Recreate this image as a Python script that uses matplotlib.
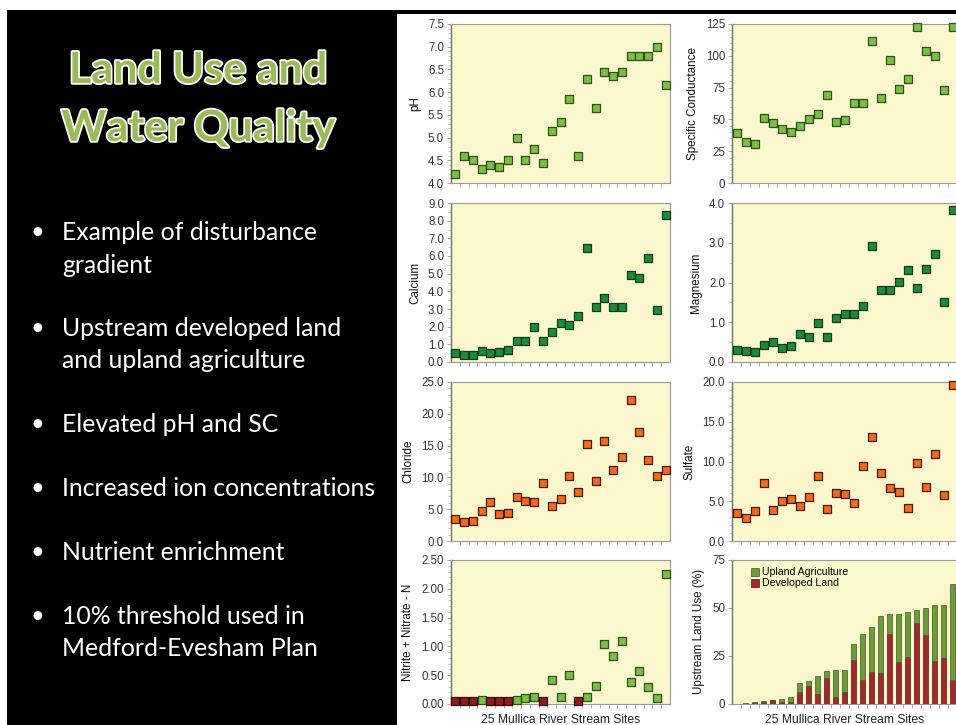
import matplotlib
matplotlib.use("Agg")
import matplotlib.pyplot as plt
import matplotlib.patheffects as pe
from matplotlib.patches import Rectangle
from matplotlib.ticker import MultipleLocator, FixedLocator, NullFormatter
import numpy as np

# ---------------- data ----------------
sites = np.arange(1, 26)
ph = [4.2, 4.6, 4.5, 4.3, 4.4, 4.35, 4.5, 5.0, 4.5, 4.75, 4.45, 5.15, 5.35,
      5.85, 4.6, 6.3, 5.65, 6.45, 6.35, 6.45, 6.8, 6.8, 6.8, 7.0, 6.15]
sc = [39, 32, 31, 51, 47.5, 42.5, 40, 44.5, 50.5, 54, 69.5, 48, 49.5, 63,
      63, 111.5, 67, 97, 74, 82, 122.5, 104, 99.5, 73, 122.5]
calcium = [0.51, 0.42, 0.38, 0.62, 0.49, 0.57, 0.66, 1.21, 1.17, 1.98, 1.21,
           1.72, 2.19, 2.12, 2.61, 6.43, 3.12, 3.63, 3.12, 3.12, 4.9, 4.76,
           5.88, 2.93, 8.34]
magnesium = [0.30, 0.28, 0.26, 0.43, 0.50, 0.36, 0.39, 0.70, 0.63, 0.99, 0.63,
             1.10, 1.21, 1.21, 1.41, 2.92, 1.82, 1.82, 2.01, 2.31, 1.87, 2.35,
             2.71, 1.50, 3.82]
chloride = [3.47, 3.0, 3.15, 4.78, 6.2, 4.2, 4.41, 6.93, 6.36, 6.15, 9.19,
            5.46, 6.62, 10.24, 7.77, 15.23, 9.45, 15.7, 11.19, 13.18, 22.2,
            17.2, 12.76, 10.24, 11.19]
sulfate = [3.47, 2.85, 3.77, 7.28, 3.93, 4.98, 5.31, 4.44, 5.48, 8.16, 4.02,
           6.1, 5.94, 4.81, 9.41, 13.14, 8.54, 6.61, 6.19, 4.18, 9.75, 6.78,
           10.96, 5.82, 19.6]
nitrate = [0.05, 0.05, 0.05, 0.064, 0.05, 0.05, 0.05, 0.064, 0.10, 0.13, 0.05,
           0.42, 0.13, 0.50, 0.05, 0.13, 0.32, 1.04, 0.84, 1.10, 0.39, 0.58,
           0.30, 0.11, 2.25]
nitrate_below_dl = [True, True, True, False, True, True, True, False, False,
                    False, True, False, False, False, True, False, False, False,
                    False, False, False, False, False, False, False]
developed = [0.1, 0.2, 0.5, 0.8, 1.9, 0.8, 1.2, 6.2, 9.2, 5.2, 13.3, 3.6, 6.2,
             22.7, 12.3, 16.8, 16.3, 36.7, 22.0, 24.3, 42.0, 35.9, 22.4, 23.9,
             12.5]
upland_ag = [0.1, 0.2, 0.5, 0.6, 0.2, 1.6, 2.4, 4.9, 2.9, 9.2, 3.7, 14.3,
             11.7, 8.5, 24.3, 23.4, 29.3, 10.3, 25.0, 23.4, 7.2, 14.2, 29.2,
             27.7, 50.1]

title_lines = ["Land Use and", "Water Quality"]
bullets = [["Example of disturbance", "gradient"],
           ["Upstream developed land", "and upland agriculture"],
           ["Elevated pH and SC"],
           ["Increased ion concentrations"],
           ["Nutrient enrichment"],
           ["10% threshold used in", "Medford-Evesham Plan"]]
xlabel = "25 Mullica River Stream Sites"

# ---------------- styling ----------------
W, H = 956, 725
fig = plt.figure(figsize=(W / 100, H / 100), dpi=100)
fig.patch.set_facecolor("white")

def fx(px):
    return px / W

def fy(py):
    return 1 - py / H

fig.patches.append(Rectangle((fx(7), 0), 1 - fx(7), fy(10), transform=fig.transFigure,
                             facecolor="black", edgecolor="none", zorder=-10))
fig.patches.append(Rectangle((fx(397), 0), 1 - fx(397), fy(14), transform=fig.transFigure,
                             facecolor="white", edgecolor="none", zorder=-9))

slide_font = ["Lato", "DejaVu Sans"]
for i, (line, yc) in enumerate(zip(title_lines, [70, 128])):
    fig.text(fx(198), fy(yc), line, ha="center", va="center", fontsize=31,
             fontweight="bold", color="#9BBB59", family=slide_font,
             path_effects=[pe.withStroke(linewidth=2.5, foreground="white")])

bullet_y = [233, 329, 425, 489, 553, 617]
line_gap = 32
for lines, y0 in zip(bullets, bullet_y):
    fig.text(fx(37), fy(y0), "\u2022", ha="center", va="center", fontsize=17,
             color="white", family=slide_font)
    for k, ln in enumerate(lines):
        fig.text(fx(62), fy(y0 + k * line_gap), ln, ha="left", va="center",
                 fontsize=17.8, color="white", family=slide_font)

plt.rcParams["font.family"] = ["Liberation Sans", "DejaVu Sans"]
bg = "#FAF7CD"
tick_col = "#333340"
green = "#7DBF45"
dkgreen = "#1E8B3C"
orange = "#F26A1B"
redbrown = "#8B1E1E"
bar_green = "#6F9A3B"
bar_red = "#9E2A2B"
MS = 36

left_x = (451, 670)
right_x = (732, 957)
rows = [(24, 183), (203, 362), (382, 541), (560, 704)]

def make_ax(col, row):
    x0, x1 = col
    t, b = rows[row]
    ax = fig.add_axes([fx(x0), fy(b), fx(x1 - x0), (b - t) / H])
    ax.set_facecolor(bg)
    for s in ["top", "right", "bottom"]:
        ax.spines[s].set_color("#9a9a9a")
        ax.spines[s].set_linewidth(0.8)
    ax.spines["left"].set_color("#707070")
    ax.spines["left"].set_linewidth(1.0)
    ax.set_xlim(0.5, 25.5)
    ax.xaxis.set_major_locator(FixedLocator(np.arange(1.5, 25.5, 1.0)))
    ax.xaxis.set_major_formatter(NullFormatter())
    ax.tick_params(axis="x", length=3, color="#9a9a9a", width=0.6)
    ax.tick_params(axis="y", which="major", length=3, color="#9a9a9a",
                   width=0.6, labelsize=8.3, labelcolor=tick_col, pad=2)
    ax.tick_params(axis="y", which="minor", length=2, color="#b0b0b0", width=0.5)
    return ax

def scatter(ax, y, color, edge):
    ax.scatter(sites, y, marker="s", s=MS, facecolor=color, edgecolor=edge,
               linewidth=0.9, zorder=3, clip_on=False)

def fmt(ax, ylim, major, minor, f, label):
    ax.set_ylim(*ylim)
    ax.yaxis.set_major_locator(MultipleLocator(major))
    if minor:
        ax.yaxis.set_minor_locator(MultipleLocator(minor))
    ax.yaxis.set_major_formatter(plt.FuncFormatter(lambda v, p: f.format(v)))
    ax.set_ylabel(label, fontsize=8.4, color="#111111", labelpad=5)

ax = make_ax(left_x, 0)
scatter(ax, ph, green, "#2f4f1c")
fmt(ax, (4.0, 7.5), 0.5, 0.1, "{:.1f}", "pH")

ax = make_ax(right_x, 0)
scatter(ax, sc, green, "#2f4f1c")
fmt(ax, (0, 125), 25, 5, "{:.0f}", "Specific Conductance")

ax = make_ax(left_x, 1)
scatter(ax, calcium, dkgreen, "#123d1c")
fmt(ax, (0, 9), 1.0, 0.5, "{:.1f}", "Calcium")

ax = make_ax(right_x, 1)
scatter(ax, magnesium, dkgreen, "#123d1c")
fmt(ax, (0, 4), 1.0, 0.5, "{:.1f}", "Magnesium")

ax = make_ax(left_x, 2)
scatter(ax, chloride, orange, "#4a1a08")
fmt(ax, (0, 25), 5.0, 1.0, "{:.1f}", "Chloride")

ax = make_ax(right_x, 2)
scatter(ax, sulfate, orange, "#4a1a08")
fmt(ax, (0, 20), 5.0, 1.0, "{:.1f}", "Sulfate")

ax = make_ax(left_x, 3)
nit = np.array(nitrate)
bdl = np.array(nitrate_below_dl)
ax.scatter(sites[~bdl], nit[~bdl], marker="s", s=MS, facecolor=green,
           edgecolor="#2f4f1c", linewidth=0.9, zorder=3, clip_on=False)
ax.scatter(sites[bdl], nit[bdl], marker="s", s=MS, facecolor=redbrown,
           edgecolor="#3a0a0a", linewidth=0.9, zorder=3, clip_on=False)
fmt(ax, (0, 2.5), 0.5, 0.1, "{:.2f}", "Nitrite + Nitrate - N")
ax.set_xlabel(xlabel, fontsize=8.7, color="#222222", labelpad=0.5)

ax = make_ax(right_x, 3)
ax.bar(sites, developed, width=0.6, color=bar_red, edgecolor="#5a1515",
       linewidth=0.5, label="Developed Land", zorder=3)
ax.bar(sites, upland_ag, width=0.6, bottom=developed, color=bar_green,
       edgecolor="#3f5a1f", linewidth=0.5, label="Upland Agriculture", zorder=3)
fmt(ax, (0, 75), 25, None, "{:.0f}", "Upstream Land Use (%)")
ax.set_xlabel(xlabel, fontsize=8.7, color="#222222", labelpad=0.5)
h, l = ax.get_legend_handles_labels()
ax.legend(h[::-1], l[::-1], loc="upper left", frameon=False, fontsize=7.6,
          handlelength=0.8, handleheight=0.8, handletextpad=0.3,
          labelspacing=0.1, borderaxespad=0.3, bbox_to_anchor=(0.05, 1.0))

fig.savefig("out.png", dpi=100, facecolor=fig.get_facecolor())
